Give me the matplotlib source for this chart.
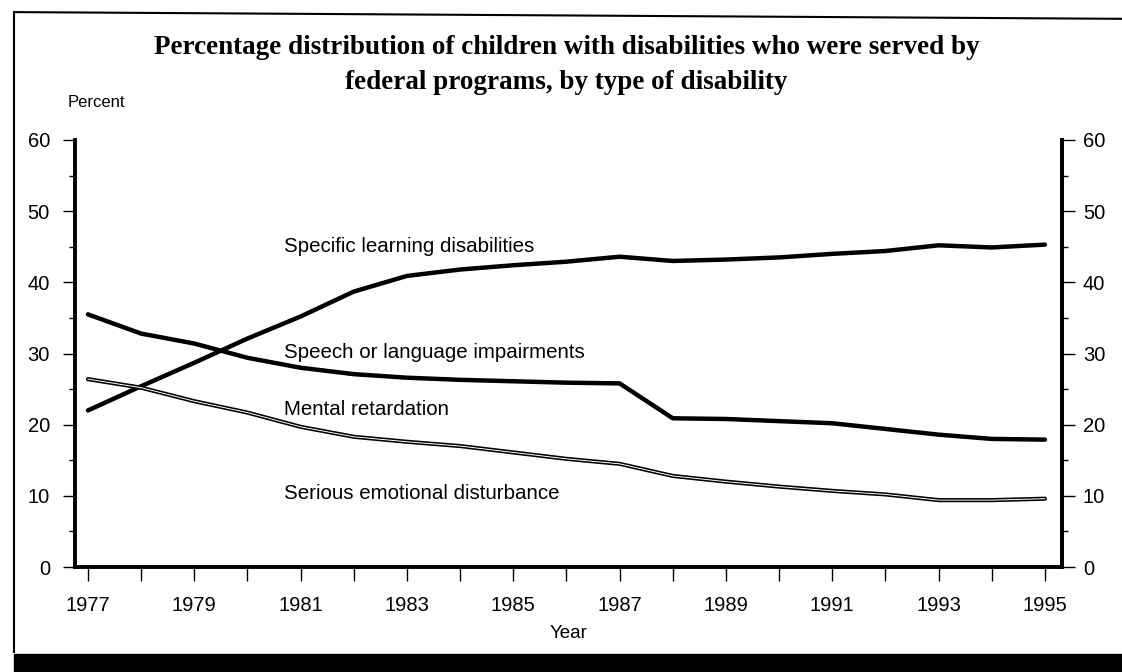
import numpy as np
import matplotlib
matplotlib.use("Agg")
import matplotlib.pyplot as plt
from matplotlib.lines import Line2D
from matplotlib.patches import Rectangle

plt.rcParams['font.family'] = ['Liberation Sans', 'DejaVu Sans']

# data (percent)
years = list(range(1977, 1996))
learning = [22.0, 25.4, 28.7, 32.1, 35.2, 38.7, 40.9, 41.8, 42.4, 42.9,
            43.6, 43.0, 43.2, 43.5, 44.0, 44.4, 45.2, 44.9, 45.3]
speech = [35.5, 32.8, 31.4, 29.4, 28.0, 27.1, 26.6, 26.3, 26.1, 25.9,
          25.8, 20.9, 20.8, 20.5, 20.2, 19.4, 18.6, 18.0, 17.9]
retardation = [26.4, 25.2, 23.3, 21.7, 19.7, 18.3, 17.6, 17.0, 16.1, 15.2,
               14.5, 12.8, 12.0, 11.3, 10.7, 10.2, 9.4, 9.4, 9.6]

labels = ["Specific learning disabilities", "Speech or language impairments",
          "Mental retardation", "Serious emotional disturbance"]
label_y = [45.1, 30.1, 22.2, 10.4]
label_x = 1980.68

fig = plt.figure(figsize=(11.22, 6.72), dpi=100)
ax = fig.add_axes([0.0668, 0.1562, 0.8797, 0.6355])

ax.plot(years, learning, color='black', lw=3.2, solid_capstyle='round', solid_joinstyle='round')
ax.plot(years, speech, color='black', lw=3.2, solid_capstyle='round', solid_joinstyle='round')
# retardation drawn as an outlined (double) line
ax.plot(years, retardation, color='black', lw=3.0, solid_capstyle='round', solid_joinstyle='round')
ax.plot(years, retardation, color='white', lw=0.7, solid_joinstyle='round')

for txt, yy in zip(labels, label_y):
    ax.text(label_x, yy, txt, fontsize=14.8, va='center', ha='left')

ax.set_xlim(1976.756, 1995.32)
ax.set_ylim(0, 60)
ax.set_xticks(years)
ax.set_xticklabels([str(y) if y % 2 == 1 else '' for y in years])
ax.set_yticks(range(0, 61, 10))
ax.set_yticks(range(5, 60, 10), minor=True)

for s in ['left', 'bottom', 'right']:
    ax.spines[s].set_linewidth(2.8)
ax.spines['top'].set_visible(False)

ax.tick_params(axis='x', direction='out', length=10, width=1, pad=11, labelsize=14.5)
ax.tick_params(axis='y', which='major', direction='out', length=9, width=1, pad=9, labelsize=14.5)
ax.tick_params(axis='y', which='minor', direction='out', length=4, width=1)

ax2 = ax.twinx()
ax2.set_ylim(0, 60)
ax2.set_yticks(range(0, 61, 10))
ax2.set_yticks(range(5, 60, 10), minor=True)
for s in ['left', 'bottom', 'top']:
    ax2.spines[s].set_visible(False)
ax2.spines['right'].set_linewidth(2.8)
ax2.tick_params(axis='y', which='major', direction='out', length=9, width=1, pad=6, labelsize=14.5)
ax2.tick_params(axis='y', which='minor', direction='out', length=4, width=1)

ax.set_xlabel("Year", fontsize=13.5, labelpad=7)
fig.text(0.0606, 0.847, "Percent", fontsize=12, ha='left', va='center')

fig.text(0.505, 0.930, "Percentage distribution of children with disabilities who were served by",
         fontsize=19.5, fontweight='bold', family=['Liberation Serif', 'DejaVu Serif'],
         ha='center', va='center')
fig.text(0.505, 0.877, "federal programs, by type of disability",
         fontsize=19.5, fontweight='bold', family=['Liberation Serif', 'DejaVu Serif'],
         ha='center', va='center')

# scanned page frame
fig.add_artist(Line2D([0.0125, 0.0125], [0.982, 0.03], color='black', lw=1.5, transform=fig.transFigure))
fig.add_artist(Line2D([0.0125, 1.0], [0.982, 0.972], color='black', lw=1.5, transform=fig.transFigure))
fig.add_artist(Rectangle((0.0125, 0.0), 0.9875, 0.027, color='black', transform=fig.transFigure))

fig.savefig("out.png", dpi=100)
